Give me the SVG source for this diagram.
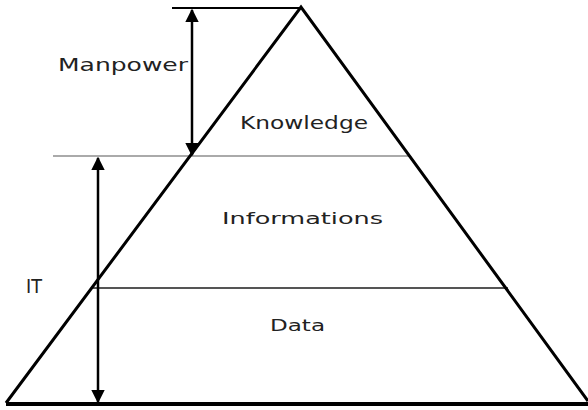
<svg xmlns="http://www.w3.org/2000/svg" width="588" height="410" viewBox="0 0 588 410">
<style>
.lbl{font-family:"DejaVu Sans",sans-serif;fill:#222;}
.edge{stroke:#000;stroke-width:3;fill:none;}
.arr{stroke:#000;stroke-width:2.5;fill:none;}
</style>
<defs>
<marker id="ah" viewBox="0 0 10 10" refX="9" refY="5" markerWidth="5.5" markerHeight="5.5" orient="auto-start-reverse" markerUnits="strokeWidth">
<path d="M0,0 L10,5 L0,10 Z" fill="#000"/>
</marker>
</defs>
<rect width="588" height="410" fill="#fff"/>
<g id="pyramid">
<line x1="53" y1="156" x2="410" y2="156" stroke="#aaa" stroke-width="2"/>
<line x1="93" y1="288" x2="508" y2="288" stroke="#555" stroke-width="2"/>
<line x1="172" y1="8" x2="301" y2="8" stroke="#000" stroke-width="2"/>
<path class="edge" d="M6,403 L301,7 L588,401"/>
<line x1="6" y1="404" x2="588" y2="404" stroke="#000" stroke-width="4"/>
</g>
<g id="connectors">
<line class="arr" x1="192" y1="10" x2="192" y2="155" marker-start="url(#ah)" marker-end="url(#ah)"/>
<line class="arr" x1="98" y1="158" x2="98" y2="402" marker-start="url(#ah)" marker-end="url(#ah)"/>
</g>
<g id="manpower"><text class="lbl" x="58" y="71" font-size="18" textLength="130" lengthAdjust="spacingAndGlyphs">Manpower</text></g>
<g id="knowledge"><text class="lbl" x="240" y="129" font-size="18" textLength="128" lengthAdjust="spacingAndGlyphs">Knowledge</text></g>
<g id="informations"><text class="lbl" x="222" y="224" font-size="16" textLength="161" lengthAdjust="spacingAndGlyphs">Informations</text></g>
<g id="data"><text class="lbl" x="270" y="331" font-size="16" textLength="55" lengthAdjust="spacingAndGlyphs">Data</text></g>
<g id="it"><text class="lbl" x="26" y="293" font-size="19" textLength="16" lengthAdjust="spacingAndGlyphs">IT</text></g>
</svg>
